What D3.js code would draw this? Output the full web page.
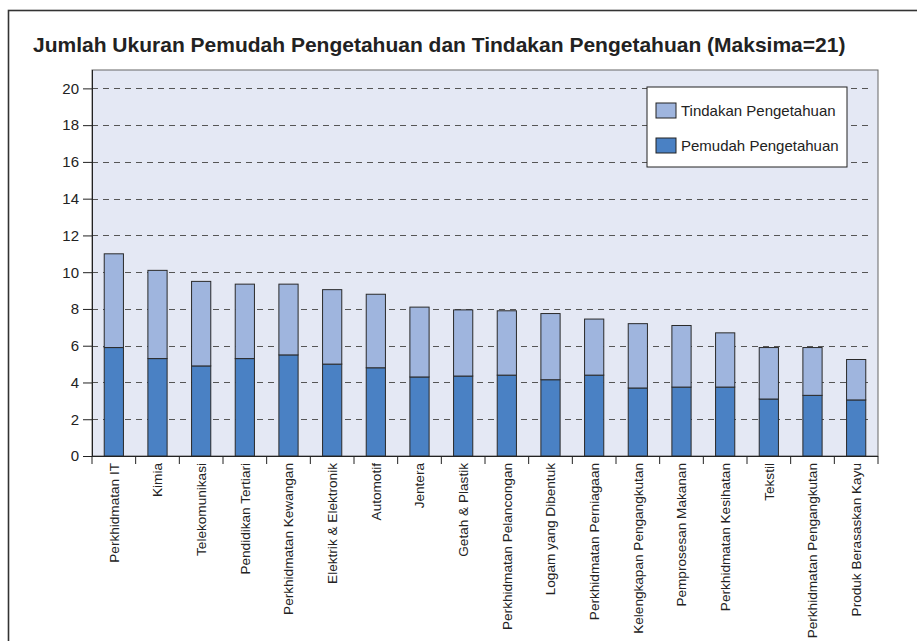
<!DOCTYPE html>
<html>
<head>
<meta charset="utf-8">
<script src="https://cdn.jsdelivr.net/npm/d3@7"></script>
<style>
  body { margin: 0; background: #fff; }
  text { font-family: "Liberation Sans", Arial, sans-serif; fill: #222; }
</style>
</head>
<body>
<div id="chart"></div>
<script>
// Sector names (x axis)
var categories = ["Perkhidmatan IT", "Kimia", "Telekomunikasi", "Pendidikan Tertiari",
    "Perkhidmatan Kewangan", "Elektrik & Elektronik", "Automotif", "Jentera",
    "Getah & Plastik", "Perkhidmatan Pelancongan", "Logam yang Dibentuk",
    "Perkhidmatan Perniagaan", "Kelengkapan Pengangkutan", "Pemprosesan Makanan",
    "Perkhidmatan Kesihatan", "Tekstil", "Perkhidmatan Pengangkutan", "Produk Berasaskan Kayu"];

// Pemudah Pengetahuan (bottom segment)
var pemudah = [5.9, 5.3, 4.9, 5.3, 5.5, 5.0, 4.8, 4.3, 4.35, 4.4, 4.15, 4.4, 3.7, 3.75, 3.75, 3.1, 3.3, 3.05];
// Tindakan Pengetahuan (top segment)
var tindakan = [5.1, 4.8, 4.6, 4.05, 3.85, 4.05, 4.0, 3.8, 3.6, 3.5, 3.6, 3.05, 3.5, 3.35, 2.95, 2.8, 2.6, 2.2];

var yTicks = [0, 2, 4, 6, 8, 10, 12, 14, 16, 18, 20];
var seriesNames = ["Tindakan Pengetahuan", "Pemudah Pengetahuan"];

var width = 917, height = 641;
var margin = {top: 70, right: 39, bottom: 185, left: 92};
var plotW = width - margin.left - margin.right;
var plotH = height - margin.top - margin.bottom;

var colors = {pemudah: "#4a81c4", tindakan: "#9fb5de"};

var svg = d3.select("#chart").append("svg")
    .attr("width", width)
    .attr("height", height);

// outer frame
svg.append("rect")
    .attr("x", 8.5).attr("y", 10.5)
    .attr("width", 920).attr("height", 650)
    .attr("fill", "none")
    .attr("stroke", "#333")
    .attr("stroke-width", 1.6);

svg.append("text")
    .attr("x", 33).attr("y", 52)
    .style("font-size", "21px")
    .style("font-weight", "bold")
    .text("Jumlah Ukuran Pemudah Pengetahuan dan Tindakan Pengetahuan (Maksima=21)");

var g = svg.append("g")
    .attr("transform", "translate(" + margin.left + "," + margin.top + ")");

var x = d3.scaleBand()
    .domain(categories)
    .range([0, plotW])
    .paddingInner(0.56)
    .paddingOuter(0.28);

var y = d3.scaleLinear()
    .domain([0, 21])
    .range([plotH, 0]);

// plot background
g.append("rect")
    .attr("width", plotW).attr("height", plotH)
    .attr("fill", "#e4e8f4")
    .attr("stroke", "#666")
    .attr("stroke-width", 1);

// dashed gridlines
g.selectAll("line.grid")
    .data(yTicks.slice(1))
    .enter().append("line")
    .attr("class", "grid")
    .attr("x1", 0).attr("x2", plotW - 5)
    .attr("y1", function(d) { return Math.round(y(d)) + 0.5; })
    .attr("y2", function(d) { return Math.round(y(d)) + 0.5; })
    .attr("stroke", "#555")
    .attr("stroke-dasharray", "6,5");

// stacked bars
var rows = categories.map(function(c, i) {
    return {name: c, pemudah: pemudah[i], tindakan: tindakan[i]};
});
var stack = d3.stack().keys(["pemudah", "tindakan"]);
var layers = stack(rows);

g.selectAll("g.layer")
    .data(layers)
    .enter().append("g")
    .attr("class", "layer")
    .attr("fill", function(d) { return colors[d.key]; })
    .selectAll("rect")
    .data(function(d) { return d; })
    .enter().append("rect")
    .attr("x", function(d) { return x(d.data.name); })
    .attr("width", x.bandwidth())
    .attr("y", function(d) { return y(d[1]); })
    .attr("height", function(d) { return y(d[0]) - y(d[1]); })
    .attr("stroke", "#2a2a2a")
    .attr("stroke-width", 1);

// y axis
var yAxis = g.append("g")
    .call(d3.axisLeft(y).tickValues(yTicks).tickSize(9).tickPadding(4));
yAxis.selectAll("text").style("font-size", "15px").attr("fill", "#222");
yAxis.selectAll("line").attr("stroke", "#222");
yAxis.select(".domain").attr("stroke", "#222").attr("d", "M0.5,0V" + plotH);

// x axis
var xAxis = g.append("g")
    .attr("transform", "translate(0," + plotH + ")")
    .call(d3.axisBottom(x).tickSize(0).tickPadding(0));
xAxis.select(".domain").attr("stroke", "#222").attr("d", "M0," + 0.5 + "H" + plotW);
xAxis.selectAll("text")
    .style("font-size", "13.6px")
    .attr("fill", "#222")
    .attr("transform", "rotate(-90)")
    .attr("text-anchor", "end")
    .attr("x", -7)
    .attr("y", 0)
    .attr("dy", "0.35em");

// ticks between bands
g.selectAll("line.xtick")
    .data(d3.range(categories.length + 1))
    .enter().append("line")
    .attr("class", "xtick")
    .attr("x1", function(i) { return i * x.step(); })
    .attr("x2", function(i) { return i * x.step(); })
    .attr("y1", plotH)
    .attr("y2", plotH + 8)
    .attr("stroke", "#222");

// legend
var legend = svg.append("g").attr("transform", "translate(647,87)");
legend.append("rect")
    .attr("width", 200).attr("height", 80)
    .attr("fill", "#fff")
    .attr("stroke", "#222");

var legendColors = [colors.tindakan, colors.pemudah];
var item = legend.selectAll("g.item")
    .data(seriesNames)
    .enter().append("g")
    .attr("class", "item")
    .attr("transform", function(d, i) { return "translate(9," + (16 + i * 35) + ")"; });
item.append("rect")
    .attr("width", 20).attr("height", 15)
    .attr("fill", function(d, i) { return legendColors[i]; })
    .attr("stroke", "#222");
item.append("text")
    .attr("x", 25).attr("y", 13)
    .style("font-size", "15px")
    .text(function(d) { return d; });
</script>
</body>
</html>
